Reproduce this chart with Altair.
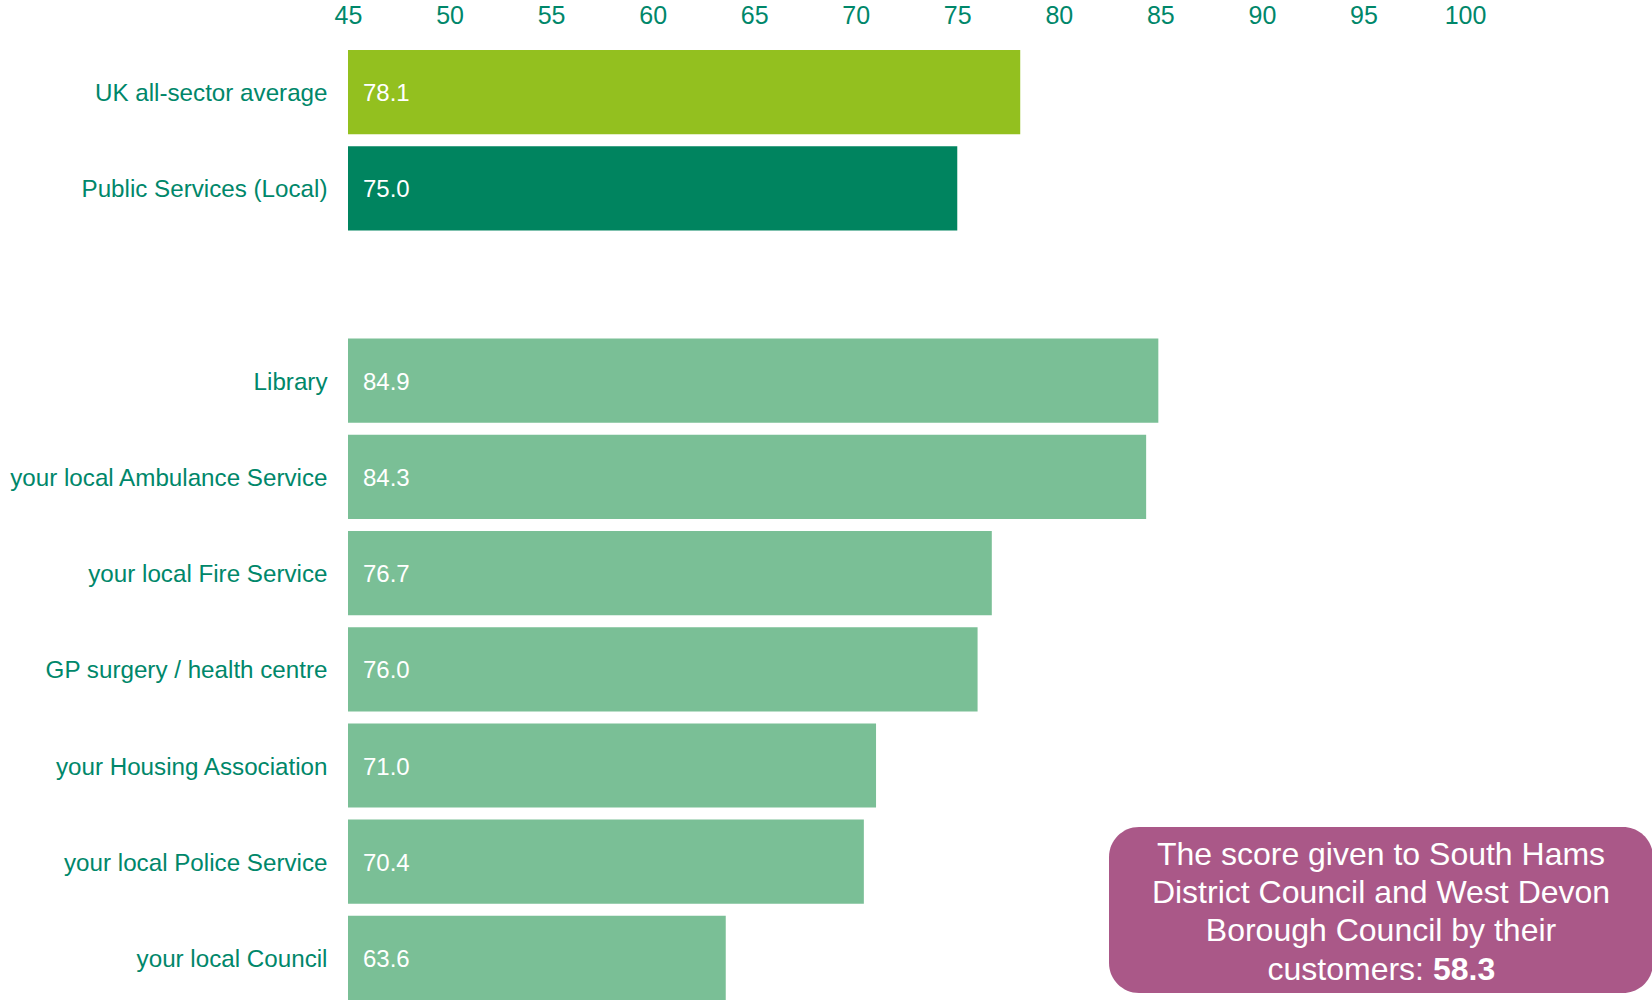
import altair as alt
import pandas as pd

categories = ["UK all-sector average", "Public Services (Local)", "Library",
              "your local Ambulance Service", "your local Fire Service",
              "GP surgery / health centre", "your Housing Association",
              "your local Police Service", "your local Council"]
values = [78.1, 75.0, 84.9, 84.3, 76.7, 76.0, 71.0, 70.4, 63.6]
groups = ["uk", "public", "sector", "sector", "sector", "sector", "sector", "sector", "sector"]
group_names = ["uk", "public", "sector"]
group_colors = ["#93C01F", "#00845F", "#7ABF96"]
axis_domain = ["UK all-sector average", "Public Services (Local)", " ", "Library",
               "your local Ambulance Service", "your local Fire Service",
               "GP surgery / health centre", "your Housing Association",
               "your local Police Service", "your local Council"]
tick_values = [45, 50, 55, 60, 65, 70, 75, 80, 85, 90, 95, 100]
callout_lines = ["The score given to South Hams", "District Council and West Devon",
                 "Borough Council by their"]
callout_last = "customers:"
callout_score = 58.3

TEXT = "#00876A"
FONT = "Liberation Sans"
CFS = 32

df = pd.DataFrame({"cat": categories, "value": values, "group": groups})

ysc = alt.Scale(domain=axis_domain, paddingInner=0.125, paddingOuter=0)
xsc = alt.Scale(domain=[45, 100], zero=False, nice=False)

bars = alt.Chart(df).mark_bar().encode(
    y=alt.Y("cat:N", scale=ysc, sort=axis_domain,
            axis=alt.Axis(title=None, ticks=False, domain=False, tickSize=0,
                          labelPadding=21, labelOffset=2, labelFontSize=24.2,
                          labelColor=TEXT, labelFont=FONT, labelLimit=400)),
    x=alt.X("value:Q", scale=xsc,
            axis=alt.Axis(orient="top", title=None, values=tick_values, ticks=False,
                          tickSize=0, domain=False, grid=False, labelPadding=22,
                          labelFlush=False, labelFontSize=25, labelColor=TEXT,
                          labelFont=FONT)),
    x2=alt.datum(45),
    color=alt.Color("group:N", scale=alt.Scale(domain=group_names, range=group_colors),
                    legend=None),
)

labels = alt.Chart(df).mark_text(align="left", baseline="middle", color="white",
                                 fontSize=24, font=FONT, dy=2).encode(
    y=alt.Y("cat:N", scale=ysc, sort=axis_domain),
    x=alt.value(15),
    text=alt.Text("value:Q", format=".1f"),
)

box_df = pd.DataFrame({"k": [1]})
box = alt.Chart(box_df).mark_rect(color="#AA5888", cornerRadius=30).encode(
    x=alt.value(761), x2=alt.value(1305), y=alt.value(777), y2=alt.value(943)
)

ys = [805, 843, 881]
line_layers = []
for t, yy in zip(callout_lines, ys):
    line_layers.append(
        alt.Chart(pd.DataFrame({"t": [t]})).mark_text(
            align="center", baseline="middle", color="white", fontSize=CFS, font=FONT
        ).encode(x=alt.value(1033), y=alt.value(yy), text="t:N")
    )
last1 = alt.Chart(pd.DataFrame({"t": [callout_last]})).mark_text(
    align="right", baseline="middle", color="white", fontSize=CFS, font=FONT
).encode(x=alt.value(1076), y=alt.value(920), text="t:N")
last2 = alt.Chart(pd.DataFrame({"v": [callout_score]})).mark_text(
    align="left", baseline="middle", color="white", fontSize=CFS, font=FONT,
    fontWeight="bold"
).encode(x=alt.value(1085), y=alt.value(920), text=alt.Text("v:Q", format=".1f"))

chart = alt.layer(bars, labels, box, *line_layers, last1, last2).properties(
    width=1117, height=950,
    autosize=alt.AutoSizeParams(type="none"),
    padding={"left": 348, "top": 50, "right": 187, "bottom": 0},
).configure_view(stroke=None)

chart.save("out.html", embed_options={"renderer": "svg", "actions": False})
